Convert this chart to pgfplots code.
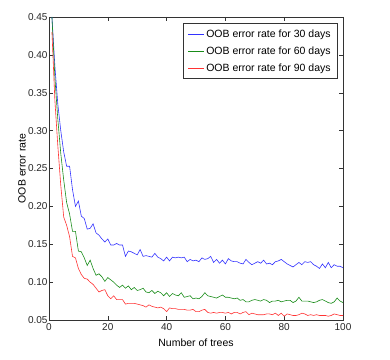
\documentclass[border=0pt]{standalone}
\usepackage{fontspec}
\setmainfont{Liberation Sans}
\usepackage{pgfplots}
\usepackage{pgfplotstable}
\pgfplotsset{compat=1.18}

\pgfplotstableread{
x b g r
1 0.450 0.450 0.430
2 0.385 0.370 0.340
3 0.335 0.315 0.280
4 0.300 0.270 0.228
5 0.272 0.235 0.186
6 0.253 0.205 0.175
7 0.253 0.190 0.160
8 0.222 0.167 0.134
9 0.200 0.167 0.132
10 0.207 0.141 0.118
11 0.187 0.140 0.110
12 0.184 0.132 0.105
13 0.170 0.122 0.104
14 0.171 0.129 0.100
15 0.177 0.118 0.097
16 0.165 0.109 0.092
17 0.162 0.111 0.087
18 0.157 0.107 0.089
19 0.153 0.101 0.090
20 0.157 0.106 0.082
21 0.149 0.103 0.078
22 0.149 0.100 0.082
23 0.151 0.096 0.077
24 0.149 0.093 0.077
25 0.149 0.096 0.077
26 0.134 0.092 0.071
27 0.141 0.095 0.072
28 0.140 0.090 0.072
29 0.138 0.093 0.072
30 0.136 0.089 0.071
31 0.143 0.090 0.070
32 0.134 0.092 0.069
33 0.135 0.087 0.067
34 0.134 0.086 0.070
35 0.133 0.089 0.068
36 0.138 0.085 0.067
37 0.133 0.088 0.066
38 0.131 0.086 0.067
39 0.128 0.082 0.065
40 0.133 0.086 0.061
41 0.128 0.081 0.066
42 0.133 0.085 0.065
43 0.132 0.083 0.065
44 0.133 0.082 0.064
45 0.132 0.086 0.064
46 0.133 0.080 0.064
47 0.127 0.081 0.063
48 0.130 0.082 0.063
49 0.128 0.078 0.064
50 0.129 0.079 0.061
51 0.127 0.078 0.061
52 0.132 0.081 0.063
53 0.130 0.086 0.064
54 0.131 0.082 0.060
55 0.134 0.081 0.059
56 0.126 0.080 0.060
57 0.130 0.079 0.059
58 0.125 0.081 0.060
59 0.129 0.083 0.060
60 0.124 0.080 0.059
61 0.131 0.080 0.060
62 0.128 0.079 0.058
63 0.127 0.078 0.060
64 0.127 0.079 0.060
65 0.125 0.076 0.058
66 0.124 0.077 0.060
67 0.130 0.074 0.061
68 0.126 0.074 0.057
69 0.123 0.076 0.059
70 0.125 0.077 0.058
71 0.127 0.076 0.057
72 0.125 0.075 0.057
73 0.129 0.077 0.057
74 0.124 0.076 0.058
75 0.125 0.073 0.058
76 0.123 0.075 0.057
77 0.127 0.075 0.059
78 0.128 0.076 0.056
79 0.130 0.074 0.059
80 0.127 0.075 0.055
81 0.124 0.076 0.058
82 0.122 0.076 0.057
83 0.120 0.073 0.056
84 0.123 0.075 0.056
85 0.126 0.080 0.057
86 0.123 0.075 0.059
87 0.127 0.075 0.058
88 0.126 0.075 0.056
89 0.127 0.074 0.057
90 0.123 0.073 0.056
91 0.121 0.074 0.057
92 0.118 0.076 0.056
93 0.124 0.077 0.056
94 0.119 0.075 0.056
95 0.126 0.073 0.055
96 0.119 0.072 0.056
97 0.123 0.074 0.058
98 0.121 0.079 0.057
99 0.121 0.075 0.056
100 0.119 0.073 0.056
}\oob

\definecolor{mplblue}{rgb}{0.2,0.2,1}
\definecolor{mplgreen}{rgb}{0.1,0.55,0.1}
\definecolor{mplred}{rgb}{1,0.2,0.2}

\begin{document}
\begin{tikzpicture}
\path[use as bounding box] (0,0) rectangle (390pt,359pt);
\begin{axis}[
  at={(49pt,39pt)}, anchor=south west,
  scale only axis, width=294pt, height=303pt,
  xmin=0, xmax=100, ymin=0.05, ymax=0.45,
  xtick={0,20,40,60,80,100},
  ytick={0.05,0.10,0.15,0.20,0.25,0.30,0.35,0.40,0.45},
  yticklabel style={/pgf/number format/fixed,/pgf/number format/fixed zerofill,/pgf/number format/precision=2, xshift=2pt},
  /pgf/number format/assume math mode=true,
  tick label style={font=\fontsize{10}{12}\selectfont, color=black!85},
  tick align=inside, major tick length=4pt,
  tick style={black!80, line width=0.5pt},
  axis line style={black!80, line width=0.8pt},
  xlabel={Number of trees},
  ylabel={OOB error rate},
  label style={font=\fontsize{10.5}{12}\selectfont},
  xlabel style={at={(axis description cs:0.5,-0.076)}, anchor=center},
  ylabel style={at={(axis description cs:-0.092,0.5)}, anchor=center},
  legend style={at={(0.983,0.98)}, anchor=north east, draw=black!80, line width=0.8pt,
    font=\fontsize{10.5}{13}\selectfont, row sep=4pt, inner xsep=5pt, inner ysep=4pt},
  legend cell align=left,
  legend image code/.code={\draw[mark repeat=2,mark phase=2,#1] plot coordinates {(0cm,0cm) (0.27cm,0cm) (0.54cm,0cm)};},
  legend image post style={line width=0.9pt},
]
\addplot[color=mplblue, line width=0.6pt] table[x=x, y=b] {\oob};
\addlegendentry{OOB error rate for 30 days}
\addplot[color=mplgreen, line width=0.6pt] table[x=x, y=g] {\oob};
\addlegendentry{OOB error rate for 60 days}
\addplot[color=mplred, line width=0.6pt] table[x=x, y=r] {\oob};
\addlegendentry{OOB error rate for 90 days}
\end{axis}
\end{tikzpicture}
\end{document}
